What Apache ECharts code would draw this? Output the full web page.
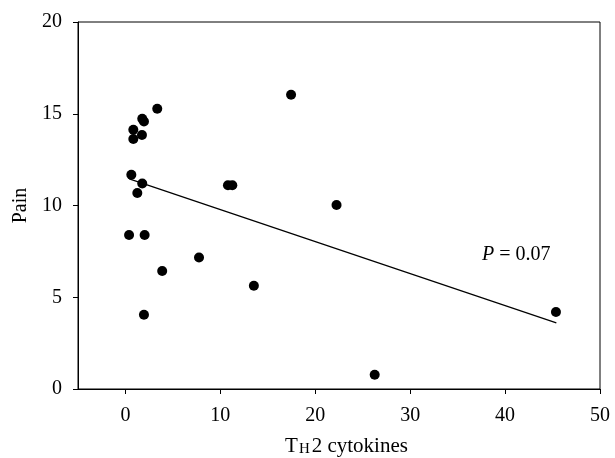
<!DOCTYPE html>
<html>
<head>
<meta charset="utf-8">
<script src="https://cdn.jsdelivr.net/npm/echarts@6/dist/echarts.min.js"></script>
<style>html,body{margin:0;padding:0;background:#fff}#c{width:615px;height:458px}</style>
</head>
<body>
<div id="c"></div>
<script>
const cytokines = [3.35, 1.77, 1.95, 0.83, 1.74, 0.83, 0.62, 1.77, 1.25, 10.8, 11.26, 0.38, 2.02, 7.75, 3.87, 13.53, 1.95, 17.45, 22.24, 45.36, 26.26];
const pain = [15.27, 14.73, 14.58, 14.13, 13.84, 13.62, 11.68, 11.2, 10.68, 11.1, 11.1, 8.39, 8.39, 7.17, 6.43, 5.63, 4.05, 16.04, 10.03, 4.2, 0.78];
const fitX = [0.4, 45.4];
const fitY = [11.45, 3.6];
const xTicks = [0, 10, 20, 30, 40, 50];
const yTicks = [0, 5, 10, 15, 20];

const FONT = 'Liberation Serif';
const chart = echarts.init(document.getElementById('c'));
chart.setOption({
  animation: false,
  backgroundColor: '#fff',
  grid: { left: 78, right: 15, top: 22, bottom: 69, containLabel: false, outerBoundsMode: 'none', show: true, borderColor: '#000', borderWidth: 1, backgroundColor: 'transparent' },
  xAxis: {
    type: 'value', min: -5, max: 50,
    axisLine: { show: true, onZero: false, lineStyle: { color: '#000', width: 1 } },
    axisTick: { show: true, length: 5, customValues: xTicks, lineStyle: { color: '#000' } },
    axisLabel: { customValues: xTicks, color: '#000', fontFamily: FONT, fontSize: 20, margin: 17 },
    splitLine: { show: false },
    name: '{t|T}{s|H}{t|2 cytokines}',
    nameLocation: 'middle', nameGap: 46,
    nameTextStyle: {
      padding: [0, 0, 0, 15],
      rich: {
        t: { fontFamily: FONT, fontSize: 21, color: '#000' },
        s: { fontFamily: FONT, fontSize: 15, color: '#000', padding: [7, 2, 0, 1] }
      }
    }
  },
  yAxis: {
    type: 'value', min: 0, max: 20, interval: 5,
    axisLine: { show: true, onZero: false, lineStyle: { color: '#000', width: 1 } },
    axisTick: { show: true, length: 5, lineStyle: { color: '#000' } },
    axisLabel: { color: '#000', fontFamily: FONT, fontSize: 20, margin: 16 },
    splitLine: { show: false },
    name: 'Pain', nameLocation: 'middle', nameGap: 47, nameRotate: 90,
    nameTextStyle: { fontFamily: FONT, fontSize: 20, color: '#000' }
  },
  series: [
    {
      type: 'line', data: fitX.map((x, i) => [x, fitY[i]]),
      symbol: 'none', lineStyle: { color: '#000', width: 1.2 }, z: 1
    },
    {
      type: 'scatter', data: cytokines.map((x, i) => [x, pain[i]]),
      symbolSize: 10, itemStyle: { color: '#000', opacity: 1 }, z: 2
    }
  ],
  graphic: [{
    type: 'text', left: 482, top: 245,
    style: {
      text: '{i|P} = 0.07',
      font: '20px "Liberation Serif"', fill: '#000',
      rich: { i: { fontStyle: 'italic', fontFamily: FONT, fontSize: 20, fill: '#000' } }
    }
  }]
});
</script>
</body>
</html>
